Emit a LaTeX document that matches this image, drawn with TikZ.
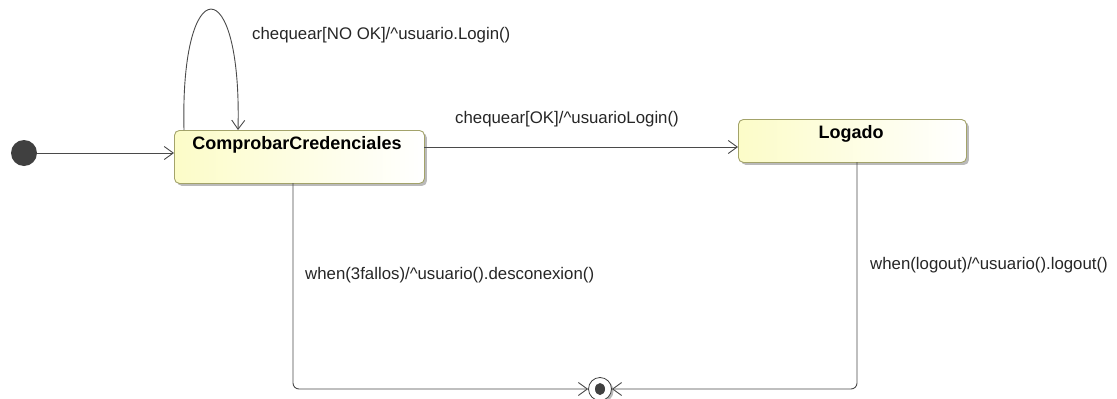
\documentclass[tikz,border=0pt]{standalone}
\usepackage{fontspec}
\setmainfont{Liberation Sans}
\usetikzlibrary{arrows.meta,shadows}
\definecolor{edge}{HTML}{4A4A4A}
\definecolor{stateborder}{HTML}{A3A36A}
\definecolor{statefill}{HTML}{FCFCC8}
\definecolor{dot}{HTML}{404040}
\tikzset{
  state/.style={draw=stateborder, line width=0.9pt, rounded corners=5pt,
    left color=statefill, right color=white, anchor=north west, inner sep=0pt,
    drop shadow={shadow xshift=2.5pt, shadow yshift=-2.5pt, fill=black!45, opacity=0.6}},
  statename/.style={anchor=base, inner sep=0pt, font=\bfseries\fontsize{18}{20}\selectfont},
  trans/.style={draw=edge, line width=0.9pt, -{Straight Barb[length=9pt,width=13pt]}},
  lbl/.style={anchor=base west, inner sep=0pt, font=\fontsize{16.8}{19}\selectfont, text=black!85},
}
\begin{document}
\begin{tikzpicture}[x=1pt,y=-1pt]
  \useasboundingbox (0,0) rectangle (1117,399);

  % initial pseudostate
  \node[circle, fill=dot, minimum size=26pt, inner sep=0pt] (init) at (24,153) {};

  % states
  \node[state, minimum width=250pt, minimum height=53pt] (cc) at (174,130) {};
  \node[statename] (cct) at (297,149) {ComprobarCredenciales};
  \node[state, minimum width=228pt, minimum height=43pt] (lg) at (738,119) {};
  \node[statename] (lgt) at (851,138) {Logado};

  % final state
  \fill[black!45, opacity=0.6] (602,391) circle (11.5pt);
  \node[circle, draw=dot, line width=0.8pt, fill=white, minimum size=23pt, inner sep=0pt] (fin) at (600,389) {};
  \fill[dot] (fin.center) ellipse (5pt and 6pt);

  % anchor points on the state borders
  \coordinate (loopA) at (184,130);
  \coordinate (loopB) at (238,130);
  \coordinate (ccE) at (424,147);
  \coordinate (lgW) at (738,147);
  \coordinate (ccS) at (293,183);
  \coordinate (lgS) at (857,162);

  % transitions
  \draw[trans] (init) -- (cc.west |- init);
  \draw[trans] (loopA) .. controls (180,-31) and (242,-31) .. (loopB);
  \draw[trans] (ccE) -- (lgW);
  \draw[trans, rounded corners=6pt] (ccS) |- (fin.west);
  \draw[trans, rounded corners=6pt] (lgS) |- (fin.east);

  % labels
  \node[lbl] (l1) at (252,39) {chequear[NO OK]/\^{}usuario.Login()};
  \node[lbl] (l2) at (455,123) {chequear[OK]/\^{}usuarioLogin()};
  \node[lbl] (l3) at (305,279) {when(3fallos)/\^{}usuario().desconexion()};
  \node[lbl] (l4) at (870,269) {when(logout)/\^{}usuario().logout()};
\end{tikzpicture}
\end{document}
